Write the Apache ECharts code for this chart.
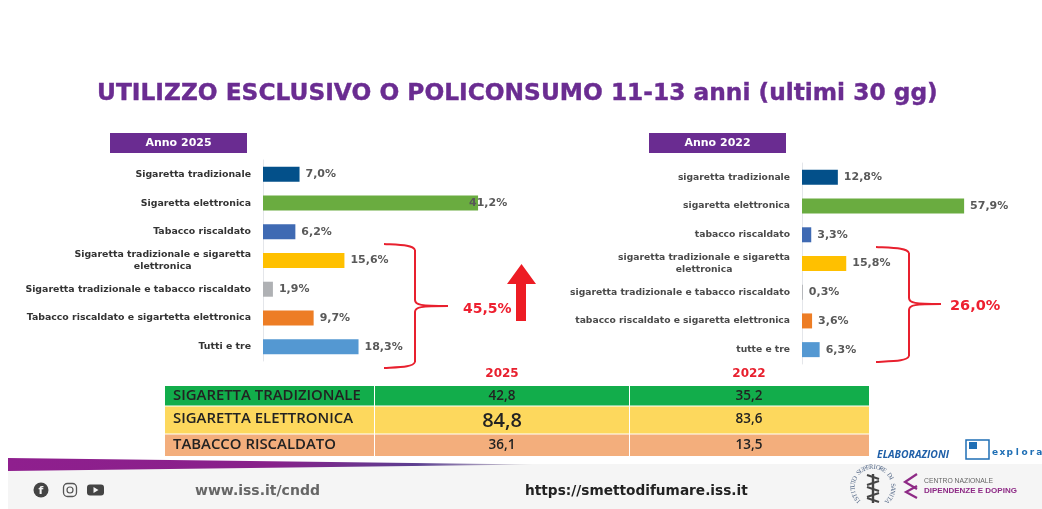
<!DOCTYPE html>
<html><head><meta charset="utf-8">
<style>html,body{margin:0;padding:0;background:#fff}#c{width:1042px;height:509px}</style>
<script src="https://cdn.jsdelivr.net/npm/echarts@6/dist/echarts.min.js"></script>
</head><body><div id="c"></div>
<script>
const titleText = 'UTILIZZO ESCLUSIVO O POLICONSUMO 11-13 anni (ultimi 30 gg)';
const cats2025 = ['Sigaretta tradizionale','Sigaretta elettronica','Tabacco riscaldato','Sigaretta tradizionale e sigaretta\nelettronica','Sigaretta tradizionale e tabacco riscaldato','Tabacco riscaldato e sigartetta elettronica','Tutti e tre'];
const vals2025 = [7.0,41.2,6.2,15.6,1.9,9.7,18.3];
const cats2022 = ['sigaretta tradizionale','sigaretta elettronica','tabacco riscaldato','sigaretta tradizionale e sigaretta\nelettronica','sigaretta tradizionale e tabacco riscaldato','tabacco riscaldato e sigaretta elettronica','tutte e tre'];
const vals2022 = [12.8,57.9,3.3,15.8,0.3,3.6,6.3];
const barColors = ['#03508a','#6aac40','#3f6ab3','#ffc000','#afb1b4','#ed7d25','#5498d2'];
const tableRows = ['SIGARETTA TRADIZIONALE','SIGARETTA ELETTRONICA','TABACCO RISCALDATO'];
const table2025 = ['42,8','84,8','36,1'];
const table2022 = ['35,2','83,6','13,5'];
const tableColors = ['#12ad4b','#fdd85d','#f3ae7c'];
const totals = ['45,5%','26,0%'];

const FONT = '"DejaVu Sans", sans-serif';
const OS = '"Open Sans", sans-serif';
const fmt = p => p.value.toFixed(1).replace('.', ',') + '%';

function yAxis(gi, cats, color, size){
  const st={color,fontFamily:FONT,fontWeight:'bold',fontSize:size,lineHeight:12};
  return {type:'category',gridIndex:gi,inverse:true,data:cats,
    axisLine:{show:true,lineStyle:{color:'#e4e6ea',width:1}},axisTick:{show:false},
    axisLabel:Object.assign({},st,{margin:12,align:'right',
      formatter:v=>{const p=v.split('\n');return p.length>1?`{l|${p[0]}}\n{c|${p[1]}}`:v;},
      rich:{l:Object.assign({},st),c:Object.assign({},st,{align:'center'})}})};
}
function xAxis(gi,max){return {type:'value',gridIndex:gi,min:0,max,show:false};}
function series(i,vals,overlap){
  return {type:'bar',xAxisIndex:i,yAxisIndex:i,barWidth:15,
    data:vals.map((v,k)=>({value:v,itemStyle:{color:barColors[k]},
      label:k===overlap?{offset:[-15,0]}:undefined})),
    label:{show:true,position:'right',distance:6,formatter:fmt,color:'#595959',
      fontFamily:FONT,fontWeight:'bold',fontSize:11}};
}
const g = [];
const rect=(x,y,w,h,fill,z)=>({type:'rect',z:z||1,shape:{x,y,width:w,height:h},style:{fill}});
const text=(x,y,t,s)=>({type:'text',z:5,x,y,style:Object.assign({text:t,fontFamily:FONT,verticalAlign:'middle',align:'left',fill:'#333'},s)});
const RED='#e8202e';
const bez=(x1,y1,cx1,cy1,cx2,cy2,x2,y2)=>({type:'bezierCurve',z:4,shape:{x1,y1,cpx1:cx1,cpy1:cy1,cpx2:cx2,cpy2:cy2,x2,y2},style:{fill:'none',stroke:RED,lineWidth:2}});
const seg=(x1,y1,x2,y2)=>({type:'line',z:4,shape:{x1,y1,x2,y2},style:{stroke:RED,lineWidth:2}});
function brace(x0,sx,tx,top,mid,bot){
  g.push(bez(x0,top,sx-14,top+1,sx-2,top+1,sx,top+6),seg(sx,top+6,sx,mid-6),
         bez(sx,mid-6,sx,mid-1,sx+6,mid,tx,mid),bez(tx,mid,sx+6,mid,sx,mid+1,sx,mid+6),
         seg(sx,mid+6,sx,bot-6),bez(sx,bot-6,sx-2,bot-1,sx-14,bot-1,x0,bot));
}

// footer background
g.push(rect(8,464,1034,45,'#f5f5f5',0));
g.push({type:'polygon',z:1,shape:{points:[[8,458],[533,464.5],[8,471]]},
  style:{fill:{type:'linear',x:0,y:0,x2:1,y2:0,colorStops:[{offset:0,color:'#8f1f8e'},{offset:.5,color:'#88208a'},{offset:.78,color:'#5c3f90'},{offset:1,color:'#dcdcdc'}]}}});
// year tags
g.push(rect(110,133,137,20,'#6a2c91'));
g.push(rect(649,133,137,20,'#6a2c91'));
g.push(text(178.5,143,'Anno 2025',{align:'center',fill:'#fff',fontWeight:'bold',fontSize:11}));
g.push(text(717.5,143,'Anno 2022',{align:'center',fill:'#fff',fontWeight:'bold',fontSize:11}));
// braces
brace(384,415,448,244,306,368);
brace(876,909,941,247,304,362);
g.push(text(463,309,totals[0],{fill:'#ee2030',fontWeight:'bold',fontSize:14}));
g.push(text(950,306,totals[1],{fill:'#ee2030',fontWeight:'bold',fontSize:14.5}));
// arrow
g.push({type:'polygon',z:4,shape:{points:[[521.5,264],[536,284],[526,284],[526,321],[516,321],[516,284],[507,284]]},style:{fill:'#ed1c24'}});
// table
const rowY=[386,406,434,456], colX=[165,374,629,869];
tableRows.forEach((r,i)=>{
  const y0=rowY[i],y1=rowY[i+1],cy=(y0+y1)/2;
  g.push(rect(colX[0],y0,colX[3]-colX[0],y1-y0,tableColors[i],2));
  g.push(text(173,cy-(i==1?1.5:0),r,{fontFamily:OS,fontWeight:600,fontSize:14.9,fill:'#222'}));
  g.push(text(502,cy+(i==1?1:0),table2025[i],{align:'center',fontFamily:OS,fontWeight:600,fontSize:i==1?20:13.5,fill:'#222'}));
  g.push(text(749,cy-(i==1?1:0),table2022[i],{align:'center',fontFamily:OS,fontWeight:600,fontSize:13.5,fill:'#222'}));
  if(i) g.push(rect(colX[0],y0-.5,colX[3]-colX[0],1,'#fff',3));
});
g.push(rect(colX[1],386,1,70,'#fff',3),rect(colX[2],386,1,70,'#fff',3));
g.push(text(502,374,'2025',{align:'center',fill:RED,fontWeight:'bold',fontSize:12}));
g.push(text(749,374,'2022',{align:'center',fill:RED,fontWeight:'bold',fontSize:12}));
// elaborazioni / explora
g.push(rect(958,436,84,27,'#fff',1));
g.push(text(877,455,'ELABORAZIONI',{fontFamily:OS,fontWeight:'bold',fontStyle:'italic',fontSize:10.4,fill:'#1f5fa8'}));
g.push({type:'rect',z:3,shape:{x:966,y:440,width:23,height:19},style:{fill:'#fff',stroke:'#1f6fb5',lineWidth:1.5}});
g.push(rect(969,442,8,7,'#1f6fb5',4));
[...'explora'].forEach((ch,i)=>g.push(text(995+i*7.4,453,ch,{align:'center',fontWeight:'bold',fontSize:9,fill:'#1f6fb5'})));
// footer text
g.push(text(195,491,'www.iss.it/cndd',{fontWeight:'bold',fontSize:14,fill:'#666'}));
g.push(text(525,491,'https://smettodifumare.iss.it',{fontWeight:'bold',fontSize:13.7,fill:'#222'}));
// social icons
g.push({type:'circle',z:3,shape:{cx:41,cy:490,r:7.5},style:{fill:'#444'}});
g.push(text(41,491,'f',{align:'center',fill:'#f4f4f4',fontWeight:'bold',fontSize:11}));
g.push({type:'rect',z:3,shape:{x:63.5,y:483.5,width:13,height:13,r:4},style:{fill:'none',stroke:'#555',lineWidth:1.3}});
g.push({type:'circle',z:3,shape:{cx:70,cy:490,r:3},style:{fill:'none',stroke:'#555',lineWidth:1.2}});
g.push({type:'rect',z:3,shape:{x:87,y:484.5,width:17,height:11,r:3},style:{fill:'#444'}});
g.push({type:'polygon',z:4,shape:{points:[[93.5,487],[93.5,493],[98.5,490]]},style:{fill:'#f4f4f4'}});
// ISS seal
const seal='ISTITUTO SUPERIORE DI SANITA';
[...seal].forEach((ch,i)=>{
  const a=(-225+i*(270/(seal.length-1)))*Math.PI/180;
  g.push({type:'text',z:4,x:873+20*Math.cos(a),y:487+20*Math.sin(a),rotation:-(a+Math.PI/2),
    style:{text:ch,fontFamily:'"Liberation Serif",serif',fontSize:6.5,fill:'#4f6484',align:'center',verticalAlign:'middle'}});
});
g.push({type:'line',z:4,shape:{x1:873,y1:474,x2:873,y2:503},style:{stroke:'#444',lineWidth:2.4}});
[477,483,489,495,500].forEach((y,i)=>g.push({type:'line',z:4,shape:{x1:867,y1:y+(i%2?2:-2),x2:879,y2:y+(i%2?-2:2)},style:{stroke:'#444',lineWidth:2}}));
// CND logo
g.push({type:'polyline',z:4,shape:{points:[[917,474],[905,482],[917,489]]},style:{stroke:'#8e2a86',lineWidth:2.2,fill:'none'}});
g.push({type:'polyline',z:4,shape:{points:[[917,486],[906,492],[917,498]]},style:{stroke:'#8e2a86',lineWidth:2.2,fill:'none'}});
g.push(text(924,481.5,'CENTRO NAZIONALE',{fontFamily:'"Liberation Sans",sans-serif',fontSize:6.8,fill:'#666'}));
g.push(text(924,491,'DIPENDENZE E DOPING',{fontFamily:'"Liberation Sans",sans-serif',fontSize:8,fontWeight:'bold',fill:'#8e2a86'}));

const chart = echarts.init(document.getElementById('c'),null,{renderer:'canvas'});
chart.setOption({
  animation:false,backgroundColor:'#fff',
  title:{text:titleText,left:92,top:77,textStyle:{fontFamily:FONT,fontWeight:'bold',fontSize:23.3,color:'#6a2c91',textBorderColor:'#6a2c91',textBorderWidth:0.4}},
  grid:[{left:263,top:160,width:261,height:201},{left:802,top:163,width:196,height:201}],
  xAxis:[xAxis(0,50),xAxis(1,70)],
  yAxis:[yAxis(0,cats2025,'#333',9.4),yAxis(1,cats2022,'#4a4a4a',9.2)],
  series:[series(0,vals2025,1),series(1,vals2022,-1)],
  graphic:{elements:g}
});
</script></body></html>
